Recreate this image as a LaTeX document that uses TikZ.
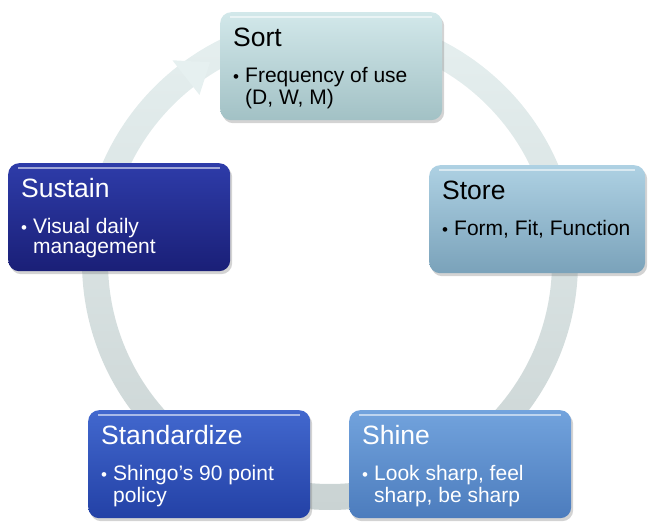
\documentclass[tikz,border=0pt]{standalone}
\usepackage{fontspec}
\setmainfont{Liberation Sans}
\usetikzlibrary{shadows}

\definecolor{ringtop}{HTML}{E6F0F0}
\definecolor{ringbot}{HTML}{CAD3D3}
\definecolor{sorttop}{HTML}{D2E8EA}
\definecolor{sortbot}{HTML}{A2C1C5}
\definecolor{storetop}{HTML}{AED1E3}
\definecolor{storebot}{HTML}{7AA2BA}
\definecolor{shinetop}{HTML}{72A3DD}
\definecolor{shinebot}{HTML}{4C7CBD}
\definecolor{standtop}{HTML}{4268CE}
\definecolor{standbot}{HTML}{2341A6}
\definecolor{sustop}{HTML}{2E3CA9}
\definecolor{susbot}{HTML}{1A1F77}

\tikzset{
	box/.style={rectangle, rounded corners=11pt, minimum width=222pt, minimum height=108pt,
		anchor=north west, inner sep=0pt,
		drop shadow={shadow xshift=2pt, shadow yshift=-3pt, opacity=0.35},
		path picture={\draw[white, opacity=0.55, line width=2pt]
			([xshift=10pt,yshift=-5pt]path picture bounding box.north west) --
			([xshift=-10pt,yshift=-5pt]path picture bounding box.north east);}},
	title/.style={anchor=base west, inner sep=0pt, font=\fontsize{26.5}{30}\selectfont},
	body/.style={anchor=base west, inner sep=0pt, font=\fontsize{21}{20}\selectfont}
}

\newcommand{\bul}[2]{\begin{tabular}[t]{@{}p{12pt}@{}l@{}}{\fontsize{17}{20}\selectfont\textbullet} & #1\\ & #2\end{tabular}}

\begin{document}
\begin{tikzpicture}[x=1pt, y=1pt]
	\useasboundingbox (0,0) rectangle (649,523);
	\coordinate (c) at (330,261);

	% ring with arrow head
	\shade[top color=ringtop, bottom color=ringbot, even odd rule] (c) circle (248) (c) circle (222);
	\fill[ringtop, shift={(c)}] (128:256) -- (121:233) -- (128:212) -- cycle;

	\node[box, top color=sorttop, bottom color=sortbot] (sort) at (220,511) {};
	\node[box, top color=storetop, bottom color=storebot, minimum width=216pt] (store) at (429,358) {};
	\node[box, top color=shinetop, bottom color=shinebot] (shine) at (349,113) {};
	\node[box, top color=standtop, bottom color=standbot] (stand) at (88,113) {};
	\node[box, top color=sustop, bottom color=susbot] (sustain) at (8,360) {};

	\node[title] (sortt) at ([xshift=13pt,yshift=-35pt]sort.north west) {Sort};
	\node[body] (sortb) at ([xshift=13pt,yshift=-71pt]sort.north west) {\bul{Frequency of use}{(D, W, M)}};

	\node[title] (storet) at ([xshift=13pt,yshift=-35pt]store.north west) {Store};
	\node[body] (storeb) at ([xshift=13pt,yshift=-71pt]store.north west) {\bul{Form, Fit, Function}{}};

	\node[title, white] (shinet) at ([xshift=13pt,yshift=-35pt]shine.north west) {Shine};
	\node[body, white] (shineb) at ([xshift=13pt,yshift=-71pt]shine.north west) {\bul{Look sharp, feel}{sharp, be sharp}};

	\node[title, white] (standt) at ([xshift=13pt,yshift=-35pt]stand.north west) {Standardize};
	\node[body, white] (standb) at ([xshift=13pt,yshift=-71pt]stand.north west) {\bul{Shingo’s 90 point}{policy}};

	\node[title, white] (sustaint) at ([xshift=13pt,yshift=-35pt]sustain.north west) {Sustain};
	\node[body, white] (sustainb) at ([xshift=13pt,yshift=-71pt]sustain.north west) {\bul{Visual daily}{management}};
\end{tikzpicture}
\end{document}
